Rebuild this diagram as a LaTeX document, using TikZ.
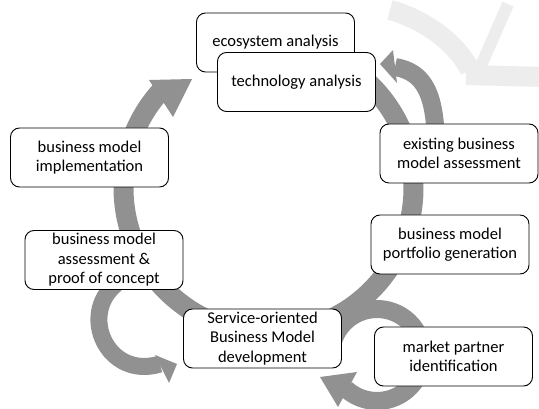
\documentclass[tikz,border=0pt]{standalone}
\usepackage{fontspec}
\setmainfont{Carlito}
\definecolor{arrowgray}{RGB}{145,145,145}
\definecolor{wmgray}{RGB}{237,237,237}
\begin{document}
\begin{tikzpicture}[x=1pt,y=-1pt,
  box/.style={draw=black, line width=0.9pt, rounded corners=9pt, fill=white,
    minimum width=158pt, minimum height=59pt, align=center, inner sep=2pt,
    font=\fontsize{16.5}{19.5}\selectfont},
  band/.style={draw=arrowgray, line width=#1},
  head/.style={fill=arrowgray},
  wm/.style={draw=wmgray, line width=#1}]
\path[use as bounding box, fill=white] (0,0) rectangle (539,409);

% watermark
\draw[wm=20pt] (390,10) .. controls (420,18) and (455,40) .. (470,70);
\draw[wm=12pt] (508,4) -- (480,68);
\draw[wm=20pt] (466,75) -- (545,77);

% centres of the circular arrows
\coordinate (mc) at (268.5,188);
\coordinate (sc) at (377,355);

% main circular arrow
\draw[band=20pt] ([shift={(-48:145)}]mc) arc[start angle=-48, end angle=222, radius=145];
\fill[head] (149,80) -- (192,79) -- (173,117) -- cycle;

% arrow towards technology analysis
\draw[band=18pt] (436,150) .. controls (436,95) and (425,72) .. (395,67);
\fill[head] (393,50) -- (380,64) -- (397,83) -- cycle;

% arrow from assessment to service
\draw[band=17pt] (116,284) .. controls (78,315) and (108,380) .. (160,364);
\fill[head] (155,355) -- (177,364) -- (169,383) -- cycle;

% arrow around market partner identification
\draw[band=18pt] ([shift={(-165:46)}]sc) arc[start angle=-165, end angle=132, radius=46];
\fill[head] (357,372) -- (320,377) -- (338,407) -- cycle;

% boxes
\node[box] (eco) at (275.5,42.5) {ecosystem analysis};
\node[box] (tech) at (296.5,82) {technology analysis};
\node[box] (impl) at (89.5,157.5) {business model\\implementation};
\node[box] (exist) at (459,153.5) {existing business\\model assessment};
\node[box] (portf) at (450,244.5) {business model\\portfolio generation};
\node[box] (assess) at (104,260) {business model\\assessment \&\\proof of concept};
\node[box] (service) at (262.5,338.5) {Service-oriented\\Business Model\\development};
\node[box] (market) at (453.5,356.5) {market partner\\identification};
\end{tikzpicture}
\end{document}
